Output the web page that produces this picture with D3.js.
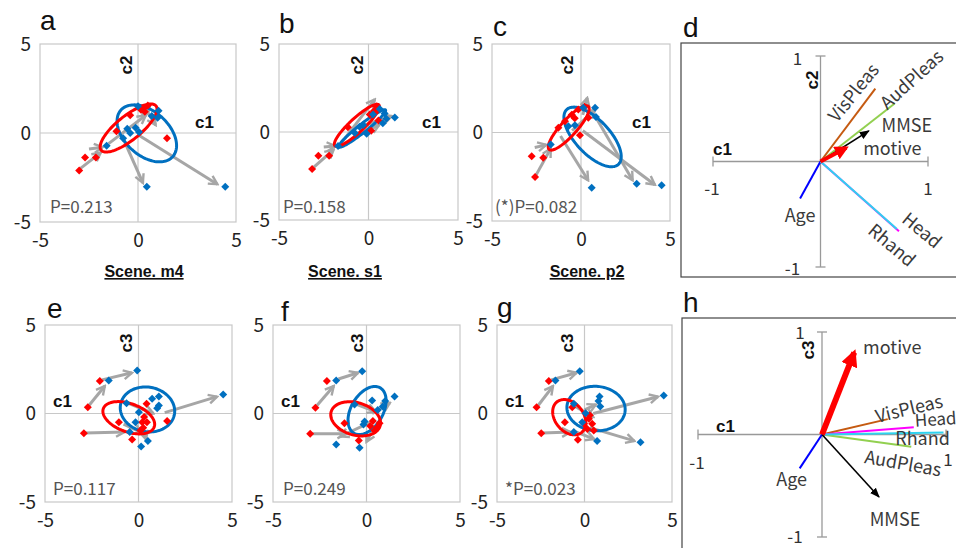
<!DOCTYPE html>
<html><head><meta charset="utf-8">
<script src="https://cdn.jsdelivr.net/npm/d3@7"></script>
<style>
body{margin:0;background:#fff;}
svg{display:block;}
text{font-family:"Noto Sans CJK JP","Noto Sans",sans-serif;}
</style>
</head><body>
<svg id="chart" width="956" height="548"></svg>
<script>
// ---------------- DATA ----------------
const axisTicks = [-5, 0, 5];
const bipTicks = [-1, 1];

// panel a (c1 vs c2, Scene. m4)
const aRed = [[-3.0,-2.1],[-2.7,-1.37],[-2.15,-1.37],[-1.1,0.1],[-0.4,1.0],[0.15,1.3],[0.3,1.4],[0.5,1.55],[0.35,1.2],[1.48,-0.3]];
const aBlue = [[4.45,-3.02],[0.45,-3.02],[-1.6,-0.71],[0.0,1.5],[-0.55,0.24],[-0.12,0.3],[-0.76,-0.3],[0.05,0.05],[1.05,1.25],[1.0,0.85],[0.7,0.95],[-0.4,0.0]];
const aArrows = [[-0.8,-0.2,0.25,-2.8],[0.0,-0.1,4.05,-2.88],[-2.95,-2.0,-1.9,-1.1],[-2.5,-0.9,-1.8,-0.8],[-1.5,-0.6,0.4,1.0],[0.2,1.0,0.6,1.55],[0.35,1.4,0.9,0.45]];
const aRedEll = [-0.48,0.28,1.4,1.24,0.38,-0.53];
const aBlueEll = [0.45,-0.02,1.32,-1.31,0.75,0.92];

// panel b (Scene. s1)
const bRed = [[-3.15,-2.1],[-2.8,-1.35],[-2.2,-1.35],[-1.15,0.27],[0.07,1.0],[0.45,1.45],[0.15,0.07],[0.55,0.66],[0.3,1.2]];
const bBlue = [[-1.7,-0.8],[-0.76,-0.05],[-0.1,-0.1],[0.26,1.0],[0.63,1.3],[1.0,0.75],[1.47,0.83],[0.8,0.5],[-0.5,0.3],[0.9,1.05],[-0.3,0.4]];
const bArrows = [[-3.05,-2.0,-1.95,-1.0],[-2.5,-0.85,-1.85,-0.8],[-1.5,-0.6,0.35,1.85],[-0.2,0.4,1.3,0.9],[-0.8,-0.3,0.6,0.4]];
const bRedEll = [-0.65,0.38,1.23,1.16,0.27,-0.29];
const bBlueEll = [-0.35,0.2,1.3,1.05,0.15,-0.18];

// panel c (Scene. p2)
const cRed = [[-2.77,-1.34],[-2.12,-1.43],[-2.58,-2.52],[-1.27,0.27],[-0.9,0.64],[-0.52,1.0],[-0.15,1.3],[0.41,0.83],[-0.06,-0.15],[0.2,1.45],[-0.35,0.8]];
const cBlue = [[-1.7,-0.68],[-0.71,0.36],[-0.34,0.41],[0.13,1.4],[0.79,1.4],[0.84,0.87],[0.6,-3.12],[3.13,-2.9],[4.53,-2.98]];
const cArrows = [[-2.55,-2.45,-1.7,-0.9],[-2.6,-0.85,-1.95,-0.7],[-1.15,-0.2,0.4,-2.7],[0.75,1.0,2.9,-2.7],[0.1,0.1,4.15,-2.95],[0.1,1.0,0.35,1.95],[-0.5,0.1,0.8,1.3]];
const cRedEll = [-0.69,0.26,1.1,1.22,0.33,-0.3];
const cBlueEll = [0.65,-0.25,1.45,-1.55,0.7,0.66];

// panel e (c1 vs c3)
const eRed = [[-2.07,1.83],[-2.71,0.36],[-2.92,-1.11],[-1.05,-0.49],[-0.34,-1.47],[1.53,-0.43],[0.43,0.55],[0.2,-0.49],[0.25,-0.8],[0.1,-0.96],[0.45,-0.5],[0.3,-0.2]];
const eBlue = [[-1.59,1.86],[-0.07,2.43],[4.53,1.07],[1.09,0.96],[0.73,0.83],[1.09,0.45],[1.0,0.3],[-0.64,0.58],[0.02,0.07],[-0.16,-0.49],[-0.47,-1.05],[0.5,-1.56],[0.14,-1.86]];
const eArrows = [[-2.65,0.45,-1.8,1.55],[-1.95,1.9,-0.35,2.3],[-2.85,-1.1,-0.75,-1.05],[1.4,0.05,4.2,0.95],[-0.6,0.6,0.8,0.0],[0.2,-0.7,0.4,-1.45],[-0.8,-0.6,0.2,-1.1]];
const eRedEll = [-0.52,-0.24,1.36,-0.52,-0.26,-0.75];
const eBlueEll = [0.48,0.23,1.44,-0.28,-0.21,-1.24];

// panel f
const fRed = [[-2.12,1.83],[-2.73,0.32],[-3.01,-1.15],[-1.18,-0.55],[-0.41,-1.53],[0.34,-0.43],[0.43,-0.96],[0.7,-0.55],[0.2,-0.7],[0.55,-0.8]];
const fBlue = [[-1.62,1.86],[-0.23,2.39],[1.5,0.96],[0.3,0.73],[-0.64,0.51],[1.0,0.7],[0.87,0.4],[-0.16,-0.62],[-1.62,-1.75],[-0.37,-1.94],[-0.1,-0.45],[0.6,0.2]];
const fArrows = [[-2.65,0.45,-1.75,1.55],[-1.5,1.95,-0.45,2.3],[-2.9,-1.15,-1.1,-1.15],[0.2,-0.5,-1.4,-1.3],[0.4,-0.8,0.0,-1.6],[0.3,0.0,1.25,0.6],[-0.5,0.5,0.5,0.1]];
const fRedEll = [-0.58,-0.3,1.31,-0.4,-0.24,-0.88];
const fBlueEll = [0.03,0.17,0.7,1.28,0.74,-0.45];

// panel g
const gRed = [[-2.04,1.83],[-2.74,0.36],[-2.47,-1.11],[-1.12,-0.49],[-0.38,-1.49],[-0.7,0.36],[0.25,-0.3],[0.44,-0.58],[0.16,-0.87],[0.53,-0.96],[-0.03,-0.58],[0.3,-0.1]];
const gBlue = [[-1.66,1.86],[-0.27,2.39],[4.53,1.02],[3.2,-1.62],[0.72,-1.56],[-0.61,-1.05],[-0.61,0.55],[0.86,0.96],[0.8,0.7],[0.9,0.4],[0.06,0.02],[-0.13,-0.5]];
const gArrows = [[-2.65,0.45,-1.8,1.55],[-1.9,1.9,-0.45,2.3],[-2.4,-1.1,-0.8,-1.05],[0.5,0.0,4.2,0.95],[0.3,-0.8,2.85,-1.55],[-0.6,-1.0,0.55,-1.45],[-0.7,0.5,0.5,-0.2],[0.0,0.2,0.65,0.5]];
const gRedEll = [-0.87,-0.21,0.86,-0.68,-0.4,-0.73];
const gBlueEll = [0.66,0.28,1.6,-0.4,-0.46,-1.19];

const pLabels = ["P=0.213","P=0.158","(*)P=0.082","P=0.117","P=0.249","*P=0.023"];
const sceneLabels = ["Scene. m4","Scene. s1","Scene. p2"];

// biplot loadings
const bipVars = ["VisPleas","AudPleas","MMSE","motive","Age","Head","Rhand"];
const dC1 = [0.51,0.69,0.45,0.24,-0.19,0.73,0.71];
const dC2 = [0.69,0.55,0.29,0.13,-0.35,-0.66,-0.64];
const hC1 = [0.53,0.72,0.46,0.26,-0.18,0.74,0.98];
const hC3 = [0.15,-0.12,-0.61,0.80,-0.33,0.07,0.02];

// ---------------- STYLE ----------------
const RED = "#ff0000", BLUE = "#0070c0", GRAY = "#a6a6a6", GRID = "#c8c8c8";
const varColor = {VisPleas:"#c55a11",AudPleas:"#92d050",MMSE:"#000000",motive:"#ff0000",Age:"#0000ff",Head:"#ff00ff",Rhand:"#2ed3f0"};

const svg = d3.select("#chart");
const defs = svg.append("defs");
defs.append("marker").attr("id","gArrow").attr("viewBox","0 0 12 12").attr("refX",10).attr("refY",6)
  .attr("markerWidth",12).attr("markerHeight",12).attr("markerUnits","userSpaceOnUse").attr("orient","auto")
  .append("path").attr("d","M1.5,1.5 L10,6 L1.5,10.5").attr("fill","none").attr("stroke",GRAY).attr("stroke-width",2.4);
defs.append("marker").attr("id","kArrow").attr("viewBox","0 0 10 10").attr("refX",9).attr("refY",5)
  .attr("markerWidth",10).attr("markerHeight",10).attr("markerUnits","userSpaceOnUse").attr("orient","auto")
  .append("path").attr("d","M0,1 L10,5 L0,9 Z").attr("fill","#000");
defs.append("marker").attr("id","rArrowD").attr("viewBox","0 0 10 10").attr("refX",8).attr("refY",5)
  .attr("markerWidth",14).attr("markerHeight",14).attr("markerUnits","userSpaceOnUse").attr("orient","auto")
  .append("path").attr("d","M0,0 L10,5 L0,10 Z").attr("fill",RED);
defs.append("marker").attr("id","rArrowH").attr("viewBox","0 0 10 10").attr("refX",8).attr("refY",5)
  .attr("markerWidth",17).attr("markerHeight",17).attr("markerUnits","userSpaceOnUse").attr("orient","auto")
  .append("path").attr("d","M0,0 L10,5 L0,10 Z").attr("fill",RED);

const diamond = d3.symbol().type(d3.symbolSquare).size(32);

function scatterPanel(cfg) {
  const x = d3.scaleLinear().domain([-5,5]).range([cfg.xl, cfg.xr]);
  const y = d3.scaleLinear().domain([-5,5]).range([cfg.yb, cfg.yt]);
  const g = svg.append("g");
  g.append("rect").attr("x",x(-5)).attr("y",y(5)).attr("width",x(5)-x(-5)).attr("height",y(-5)-y(5))
    .attr("fill","none").attr("stroke",GRID).attr("stroke-width",1.2);
  g.append("line").attr("x1",x(-5)).attr("x2",x(5)).attr("y1",y(0)).attr("y2",y(0)).attr("stroke",GRID).attr("stroke-width",1.2);
  g.append("line").attr("x1",x(0)).attr("x2",x(0)).attr("y1",y(-5)).attr("y2",y(5)).attr("stroke",GRID).attr("stroke-width",1.2);
  const fmt = d => String(d);
  const ay = g.append("g").attr("transform",`translate(${x(-5)},0)`)
    .call(d3.axisLeft(y).tickValues(axisTicks).tickSize(0).tickPadding(9).tickFormat(fmt));
  const ax = g.append("g").attr("transform",`translate(0,${y(-5)})`)
    .call(d3.axisBottom(x).tickValues(axisTicks).tickSize(0).tickPadding(12).tickFormat(fmt));
  [ay, ax].forEach(a => {
    a.select(".domain").remove();
    a.selectAll("text").attr("font-size",19).attr("fill","#222").style("font-family",'"Noto Sans CJK JP",sans-serif');
  });
  g.append("text").attr("x",cfg.c1x).attr("y",cfg.c1y).text("c1").attr("font-size",17).attr("font-weight","bold")
    .style("font-family",'"Liberation Sans",Arial,sans-serif').attr("fill","#111");
  g.append("text").attr("transform",`translate(${cfg.c2x},${cfg.c2y}) rotate(-90)`).attr("text-anchor","middle")
    .attr("dominant-baseline","central").text(cfg.yName).attr("font-size",17).attr("font-weight","bold")
    .style("font-family",'"Liberation Sans",Arial,sans-serif').attr("fill","#111");
  g.append("text").attr("x",cfg.lx).attr("y",cfg.ly).text(cfg.letter).attr("font-size",28).attr("fill","#111")
    .style("font-family",'"Liberation Sans",Arial,sans-serif');
  g.append("text").attr("x",cfg.px).attr("y",cfg.py).text(cfg.p).attr("font-size",17).attr("fill","#555");
  g.selectAll("line.arr").data(cfg.arrows).join("line").attr("class","arr")
    .attr("x1",d=>x(d[0])).attr("y1",d=>y(d[1])).attr("x2",d=>x(d[2])).attr("y2",d=>y(d[3]))
    .attr("stroke",GRAY).attr("stroke-width",3).attr("marker-end","url(#gArrow)");
  const line = d3.line().x(d=>x(d[0])).y(d=>y(d[1])).curve(d3.curveLinearClosed);
  const ell = e => d3.range(0, 2*Math.PI, Math.PI/60).map(t => [e[0]+e[2]*Math.cos(t)+e[4]*Math.sin(t), e[1]+e[3]*Math.cos(t)+e[5]*Math.sin(t)]);
  g.append("path").attr("d",line(ell(cfg.blueEll))).attr("fill","none").attr("stroke",BLUE).attr("stroke-width",3);
  g.append("path").attr("d",line(ell(cfg.redEll))).attr("fill","none").attr("stroke",RED).attr("stroke-width",3);
  g.selectAll("path.rp").data(cfg.red).join("path").attr("class","rp").attr("d",diamond)
    .attr("transform",d=>`translate(${x(d[0])},${y(d[1])}) rotate(45)`).attr("fill",RED);
  g.selectAll("path.bp").data(cfg.blue).join("path").attr("class","bp").attr("d",diamond)
    .attr("transform",d=>`translate(${x(d[0])},${y(d[1])}) rotate(45)`).attr("fill",BLUE);
  if (cfg.scene) {
    g.append("text").attr("x",cfg.sx).attr("y",277).attr("text-anchor","middle").text(cfg.scene)
      .attr("font-size",16).attr("font-weight","bold").attr("text-decoration","underline")
      .style("font-family",'"Liberation Sans",Arial,sans-serif').attr("fill","#111");
  }
}

scatterPanel({letter:"a",lx:40,ly:30,xl:40,xr:236,yt:44,yb:222,c1x:195,c1y:128,c2x:126,c2y:65,yName:"c2",px:50,py:213,p:pLabels[0],
  red:aRed,blue:aBlue,arrows:aArrows,redEll:aRedEll,blueEll:aBlueEll,scene:sceneLabels[0],sx:144});
scatterPanel({letter:"b",lx:279,ly:33,xl:279,xr:458,yt:44,yb:220,c1x:422,c1y:128,c2x:357,c2y:65,yName:"c2",px:283,py:213,p:pLabels[1],
  red:bRed,blue:bBlue,arrows:bArrows,redEll:bRedEll,blueEll:bBlueEll,scene:sceneLabels[1],sx:345});
scatterPanel({letter:"c",lx:493,ly:36,xl:492,xr:670,yt:44,yb:221,c1x:632,c1y:128,c2x:567,c2y:65,yName:"c2",px:495,py:213,p:pLabels[2],
  red:cRed,blue:cBlue,arrows:cArrows,redEll:cRedEll,blueEll:cBlueEll,scene:sceneLabels[2],sx:587});
scatterPanel({letter:"e",lx:47,ly:318,xl:45,xr:232,yt:325,yb:502,c1x:53,c1y:407,c2x:126,c2y:343,yName:"c3",px:53,py:495,p:pLabels[3],
  red:eRed,blue:eBlue,arrows:eArrows,redEll:eRedEll,blueEll:eBlueEll});
scatterPanel({letter:"f",lx:281,ly:321,xl:273,xr:460,yt:325,yb:502,c1x:281,c1y:407,c2x:357,c2y:343,yName:"c3",px:283,py:495,p:pLabels[4],
  red:fRed,blue:fBlue,arrows:fArrows,redEll:fRedEll,blueEll:fBlueEll});
scatterPanel({letter:"g",lx:497,ly:317,xl:497,xr:672,yt:325,yb:502,c1x:505,c1y:407,c2x:567,c2y:343,yName:"c3",px:505,py:495,p:pLabels[5],
  red:gRed,blue:gBlue,arrows:gArrows,redEll:gRedEll,blueEll:gBlueEll});

// ---------------- BIPLOTS ----------------
function biplot(cfg) {
  const x = d3.scaleLinear().domain([-1,1]).range([cfg.xl, cfg.xr]);
  const y = d3.scaleLinear().domain([-1,1]).range([cfg.yb, cfg.yt]);
  const g = svg.append("g");
  g.append("rect").attr("x",cfg.bx).attr("y",cfg.by).attr("width",cfg.bw).attr("height",cfg.bh)
    .attr("fill","none").attr("stroke","#444").attr("stroke-width",1.2);
  g.append("text").attr("x",cfg.lx).attr("y",cfg.ly).text(cfg.letter).attr("font-size",28).attr("fill","#111")
    .style("font-family",'"Liberation Sans",Arial,sans-serif');
  const ax = "#999";
  g.append("line").attr("x1",x(-1)).attr("x2",x(1)).attr("y1",y(0)).attr("y2",y(0)).attr("stroke",ax).attr("stroke-width",1.3);
  g.append("line").attr("x1",x(0)).attr("x2",x(0)).attr("y1",y(-1)).attr("y2",y(1)).attr("stroke",ax).attr("stroke-width",1.3);
  bipTicks.forEach(t => {
    g.append("line").attr("x1",x(t)).attr("x2",x(t)).attr("y1",y(0)-5).attr("y2",y(0)+5).attr("stroke",ax).attr("stroke-width",1.3);
    g.append("line").attr("x1",x(0)-5).attr("x2",x(0)+5).attr("y1",y(t)).attr("y2",y(t)).attr("stroke",ax).attr("stroke-width",1.3);
  });
  const tl = (px,py,s) => g.append("text").attr("x",px).attr("y",py).attr("text-anchor","middle").attr("dominant-baseline","central")
    .text(s).attr("font-size",17).attr("fill","#333");
  tl(x(-1)+cfg.tk.lx, y(0)+cfg.tk.ly, "-1");
  tl(x(1)+cfg.tk.rx, y(0)+cfg.tk.ry, "1");
  tl(x(0)+cfg.tk.tx, y(1)+cfg.tk.ty, "1");
  tl(x(0)+cfg.tk.bx, y(-1)+cfg.tk.by, "-1");
  g.append("text").attr("x",cfg.c1x).attr("y",cfg.c1y).text("c1").attr("font-size",17).attr("font-weight","bold")
    .style("font-family",'"Liberation Sans",Arial,sans-serif').attr("fill","#111");
  g.append("text").attr("transform",`translate(${cfg.c2x},${cfg.c2y}) rotate(-90)`).attr("text-anchor","middle")
    .attr("dominant-baseline","central").text(cfg.yName).attr("font-size",17).attr("font-weight","bold")
    .style("font-family",'"Liberation Sans",Arial,sans-serif').attr("fill","#111");
  const order = ["VisPleas","AudPleas","Age","Head","Rhand","MMSE","motive"];
  order.forEach(v => {
    const i = bipVars.indexOf(v);
    const vx = cfg.cx[i], vy = cfg.cy[i];
    const ln = g.append("line").attr("x1",x(0)).attr("y1",y(0)).attr("x2",x(vx)).attr("y2",y(vy)).attr("stroke",varColor[v]);
    if (v === "motive") ln.attr("stroke-width",cfg.redW).attr("marker-end",`url(#${cfg.redMarker})`);
    else if (v === "MMSE") ln.attr("stroke-width",1.6).attr("marker-end","url(#kArrow)");
    else ln.attr("stroke-width",2);
    const L = cfg.lab[v];
    g.append("text").attr("transform",`translate(${x(vx)+L[0]},${y(vy)+L[1]}) rotate(${L[2]})`)
      .attr("text-anchor",L[3] || "middle").attr("dominant-baseline","central").text(v)
      .attr("font-size",L[4] || 18).attr("fill","#3a3a3a");
  });
}

biplot({letter:"d",lx:683,ly:37,bx:681,by:43,bw:300,bh:234,xl:713,xr:928,yb:267,yt:56,cx:dC1,cy:dC2,yName:"c2",
  c1x:713,c1y:155,c2x:812,c2y:80,redW:4,redMarker:"rArrowD",
  tk:{lx:-1,ly:26,rx:0,ry:26,tx:-23,ty:1,bx:-28,by:0},
  lab:{VisPleas:[-23,3,-51],AudPleas:[16,-25,-42],MMSE:[38,-7,0],motive:[46,-1,0],Age:[0,16,0],Head:[24,-2,39.5],Rhand:[-4,15,40]}});
biplot({letter:"h",lx:683,ly:312,bx:682,by:318,bw:300,bh:260,xl:698,xr:946,yb:537,yt:332,cx:hC1,cy:hC3,yName:"c3",
  c1x:716,c1y:432,c2x:808,c2y:350,redW:6,redMarker:"rArrowH",
  tk:{lx:-1,ly:27,rx:2,ry:24,tx:-22,ty:-1,bx:-27,by:-2},
  lab:{VisPleas:[21,-12,-13.5],AudPleas:[-8,15,10],MMSE:[16,21,0],motive:[38,-7,0],Age:[-8,10,0],Head:[1,-8,-4,"start",17],Rhand:[-21,5,0]}});
</script>
</body></html>
